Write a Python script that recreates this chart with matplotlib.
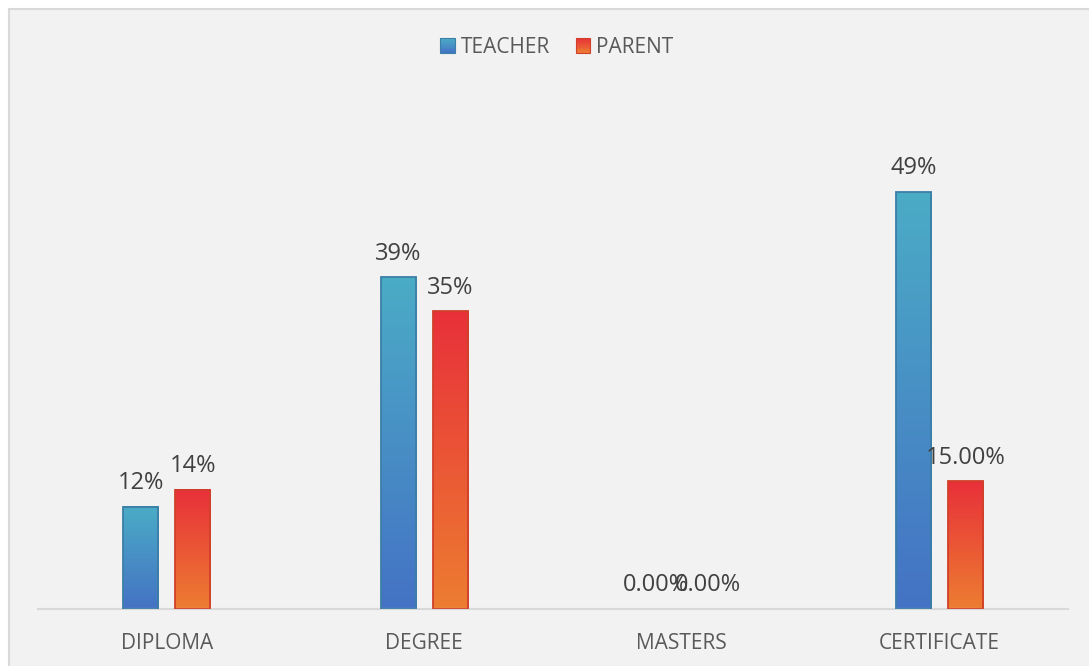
import numpy as np
import matplotlib
matplotlib.use("Agg")
import matplotlib.pyplot as plt
from matplotlib.colors import LinearSegmentedColormap
from matplotlib.patches import Rectangle, Patch
from matplotlib.legend_handler import HandlerBase

categories = ["DIPLOMA", "DEGREE", "MASTERS", "CERTIFICATE"]
teacher = [0.12, 0.39, 0.0, 0.49]
parent = [0.14, 0.35, 0.0, 0.15]
teacher_labels = ["12%", "39%", "0.00%", "49%"]
parent_labels = ["14%", "35%", "0.00%", "15.00%"]
series_names = ["TEACHER", "PARENT"]

plt.rcParams['font.family'] = ['Open Sans', 'DejaVu Sans']

W, H = 1089, 666
fig = plt.figure(figsize=(W / 100, H / 100), dpi=100)
fig.patch.set_facecolor("white")
fig.patches.append(Rectangle((8.5 / W, -0.02), 1.0, (H - 8.5) / H + 0.02, transform=fig.transFigure,
                             facecolor="#f2f2f2", edgecolor="#d9d9d9", lw=1.5, zorder=-5))

ax_left, ax_right = 38 / W, 1068 / W
ax_bottom = (H - 609) / H
ymax = 0.6
ax_top = (H - (609 - ymax * 851)) / H
ax = fig.add_axes([ax_left, ax_bottom, ax_right - ax_left, ax_top - ax_bottom])
ax.set_facecolor("none")
ax.set_zorder(2)

teacher_cmap = LinearSegmentedColormap.from_list("t", ["#4472c4", "#4bacc6"])
parent_cmap = LinearSegmentedColormap.from_list("p", ["#ed7d31", "#e8303a"])

x = np.arange(len(categories))
width = 0.136
offset = 0.101
grad = np.linspace(0, 1, 256).reshape(-1, 1)

def draw_bars(xs, vals, cmap, edge):
    for xc, v in zip(xs, vals):
        if v <= 0:
            continue
        x0, x1 = xc - width / 2, xc + width / 2
        ax.imshow(grad, extent=[x0, x1, 0, v], origin="lower", aspect="auto",
                  cmap=cmap, zorder=2, interpolation="bicubic")
        ax.add_patch(Rectangle((x0, 0), width, v, facecolor="none", edgecolor=edge,
                               lw=1.3, zorder=3))

draw_bars(x - offset, teacher, teacher_cmap, "#3b7ea6")
draw_bars(x + offset, parent, parent_cmap, "#d0402a")

for xs, vals, labs in [(x - offset, teacher, teacher_labels), (x + offset, parent, parent_labels)]:
    for xc, v, lab in zip(xs, vals, labs):
        ax.annotate(lab, (xc, v), xytext=(0, 8.3), textcoords="offset points",
                    ha="center", va="bottom", fontsize=17, color="#404040", zorder=4)

ax.set_xlim(-0.5, len(categories) - 0.5)
ax.set_ylim(0, ymax)
ax.set_xticks(x)
ax.set_xticklabels(categories, fontsize=15, color="#595959")
ax.tick_params(axis="x", length=0, pad=17)
ax.set_yticks([])
for s in ["top", "left", "right"]:
    ax.spines[s].set_visible(False)
ax.spines["bottom"].set_color("#d9d9d9")
ax.spines["bottom"].set_linewidth(1.5)


class GradHandler(HandlerBase):
    def __init__(self, cmap, edge):
        super().__init__()
        self.cmap = cmap
        self.edge = edge

    def create_artists(self, legend, orig_handle, xdescent, ydescent, width, height, fontsize, trans):
        s = min(width, height) * 1.0
        x0 = -xdescent + (width - s)
        y0 = -ydescent + (height - s) / 2
        arts = []
        n = 8
        for i in range(n):
            c = self.cmap((i + 0.5) / n)
            arts.append(Rectangle((x0, y0 + s * i / n), s, s / n + 0.2, facecolor=c,
                                  edgecolor="none", transform=trans))
        arts.append(Rectangle((x0, y0), s, s, facecolor="none", edgecolor=self.edge,
                              lw=0.8, transform=trans))
        return arts


h1 = Patch(label=series_names[0])
h2 = Patch(label=series_names[1])
leg = fig.legend([h1, h2], series_names, loc="center", bbox_to_anchor=(557 / W, (H - 47.5) / H),
                 ncol=2, frameon=False, fontsize=15, handlelength=0.7, handleheight=0.7,
                 handletextpad=0.3, columnspacing=1.2,
                 handler_map={h1: GradHandler(teacher_cmap, "#3b7ea6"),
                              h2: GradHandler(parent_cmap, "#d0402a")})
for t in leg.get_texts():
    t.set_color("#595959")

fig.savefig("out.png", dpi=100, facecolor=fig.get_facecolor())
